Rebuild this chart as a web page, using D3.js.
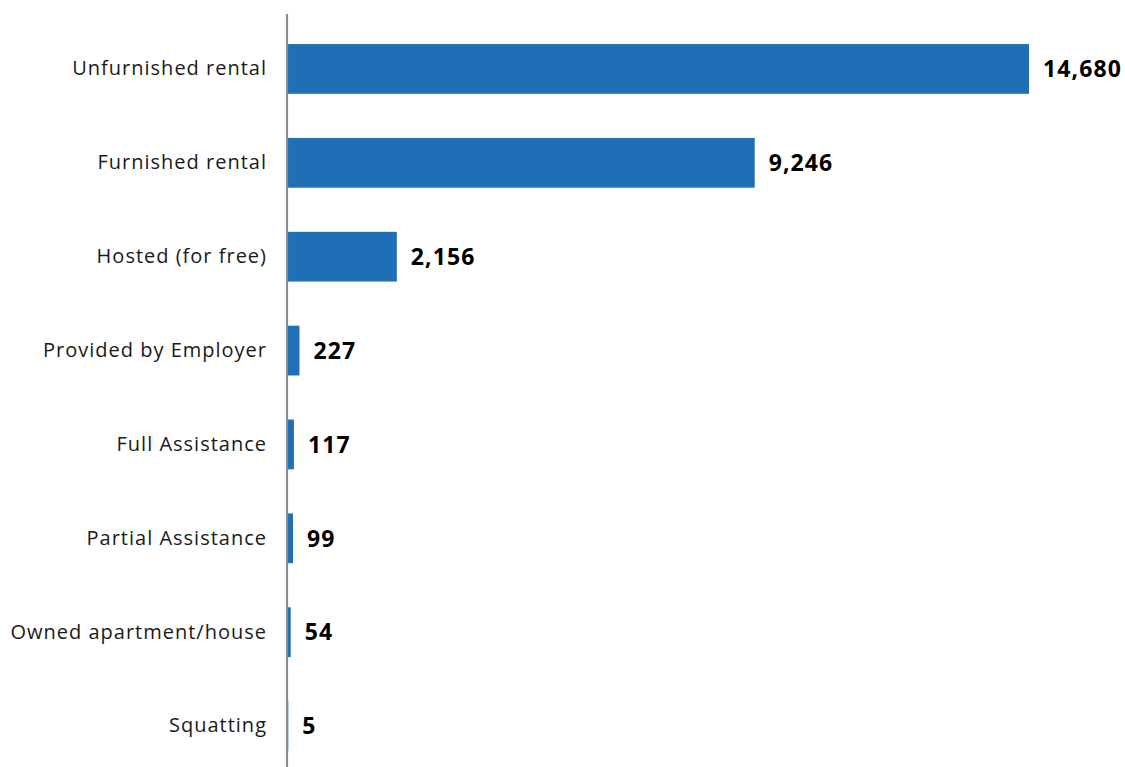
<!DOCTYPE html>
<html>
<head>
<meta charset="utf-8">
<script src="https://cdn.jsdelivr.net/npm/d3@7"></script>
<style>
  html, body { margin: 0; padding: 0; background: #fff; }
  svg { display: block; }
</style>
</head>
<body>
<div id="chart"></div>
<script>
// Housing situation counts
const categories = [
  "Unfurnished rental",
  "Furnished rental",
  "Hosted (for free)",
  "Provided by Employer",
  "Full Assistance",
  "Partial Assistance",
  "Owned apartment/house",
  "Squatting"
];
const counts = [14680, 9246, 2156, 227, 117, 99, 54, 5];

const width = 1125, height = 767;
const x0 = 288, x1 = 1029;

const svg = d3.select("#chart").append("svg")
  .attr("width", width).attr("height", height);

const x = d3.scaleLinear().domain([0, 14680]).range([x0, x1]);
const y = d3.scaleBand().domain(categories).range([22, 773])
  .paddingInner(0.47).paddingOuter(0.235);

const data = categories.map((c, i) => ({ cat: c, val: counts[i] }));

svg.append("g").selectAll("rect").data(data).join("rect")
  .attr("x", x(0))
  .attr("y", d => y(d.cat))
  .attr("width", d => x(d.val) - x(0))
  .attr("height", y.bandwidth())
  .attr("fill", "#1f6fb6");

// category axis
const yAxis = d3.axisLeft(y).tickSize(0).tickPadding(20);
const ag = svg.append("g").attr("transform", `translate(${x0 - 1},0)`).call(yAxis);
ag.select(".domain").remove();
ag.selectAll("text")
  .attr("font-family", "'Open Sans', sans-serif")
  .attr("font-size", 20)
  .attr("letter-spacing", "1px")
  .attr("fill", "#1a1a1a");

svg.append("line")
  .attr("x1", x0 - 1).attr("x2", x0 - 1)
  .attr("y1", 14).attr("y2", height)
  .attr("stroke", "#8c8c8c").attr("stroke-width", 2.2);

svg.append("g").selectAll("text").data(data).join("text")
  .attr("x", d => x(d.val) + 14)
  .attr("y", d => y(d.cat) + y.bandwidth() / 2)
  .attr("dy", "0.36em")
  .attr("font-family", "'Open Sans', sans-serif")
  .attr("font-weight", 700)
  .attr("font-size", 23)
  .attr("letter-spacing", "1.1px")
  .attr("fill", "#000")
  .text(d => d3.format(",")(d.val));
</script>
</body>
</html>
